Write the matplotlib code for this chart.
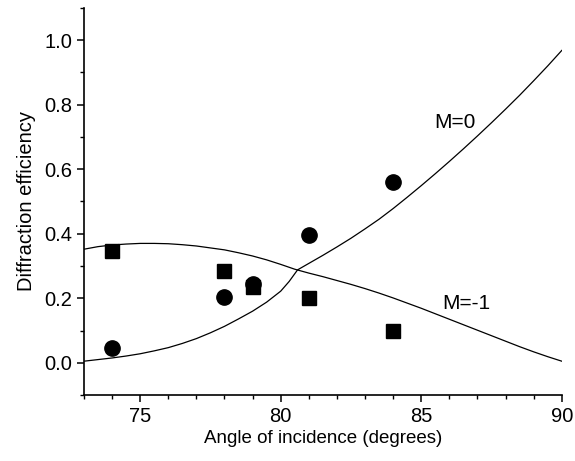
import matplotlib
matplotlib.use("Agg")
import matplotlib.pyplot as plt
from matplotlib.ticker import MultipleLocator

# Measured data
meas_angles = [74, 78, 79, 81, 84]
m0_measured = [0.045, 0.205, 0.245, 0.395, 0.56]
m1_measured = [0.345, 0.285, 0.235, 0.20, 0.10]

# Theoretical curves
m0_angles = [73, 73.5, 74, 74.5, 75, 75.5, 76, 76.5, 77, 77.5, 78, 78.5, 79, 79.5, 80, 80.3, 80.6, 81, 81.5,
             82, 82.5, 83, 83.5, 84, 84.5, 85, 85.5, 86, 86.5, 87, 87.5, 88, 88.5, 89, 89.5, 90]
m0_theory = [0.005, 0.010, 0.015, 0.021, 0.028, 0.037, 0.047, 0.060, 0.075, 0.093, 0.113, 0.136, 0.160, 0.188,
             0.222, 0.252, 0.288, 0.308, 0.333, 0.359, 0.386, 0.415, 0.445, 0.478, 0.513, 0.549, 0.586, 0.624,
             0.663, 0.703, 0.744, 0.786, 0.829, 0.874, 0.920, 0.968]
m1_angles = [73, 73.5, 74, 74.5, 75, 75.5, 76, 76.5, 77, 77.5, 78, 78.5, 79, 79.5, 80, 80.5, 81, 81.5, 82,
             82.5, 83, 83.5, 84, 84.5, 85, 85.5, 86, 86.5, 87, 87.5, 88, 88.5, 89, 89.5, 90]
m1_theory = [0.352, 0.360, 0.365, 0.368, 0.370, 0.370, 0.369, 0.366, 0.362, 0.356, 0.350, 0.341, 0.331, 0.319,
             0.305, 0.290, 0.278, 0.267, 0.255, 0.243, 0.230, 0.216, 0.201, 0.185, 0.169, 0.152, 0.135, 0.118,
             0.101, 0.084, 0.067, 0.050, 0.034, 0.019, 0.005]

plt.rcParams['font.family'] = ['Liberation Sans', 'DejaVu Sans']

fig = plt.figure(figsize=(5.75, 4.61), dpi=100)
ax = fig.add_axes([0.146, 0.143, 0.831, 0.840])

ax.plot(m0_angles, m0_theory, color='black', lw=0.9)
ax.plot(m1_angles, m1_theory, color='black', lw=0.9)
ax.plot(meas_angles, m0_measured, 'o', color='black', markersize=11)
ax.plot(meas_angles, m1_measured, 's', color='black', markersize=9.5)

ax.text(86.2, 0.745, 'M=0', ha='center', va='center', fontsize=15)
ax.text(86.6, 0.183, 'M=-1', ha='center', va='center', fontsize=15)

ax.set_xlim(73, 90)
ax.set_ylim(-0.1, 1.1)
ax.xaxis.set_major_locator(MultipleLocator(5))
ax.xaxis.set_minor_locator(MultipleLocator(1))
ax.yaxis.set_minor_locator(MultipleLocator(0.1))
ax.set_yticks([0.0, 0.2, 0.4, 0.6, 0.8, 1.0])
ax.set_yticklabels(['0.0', '0.2', '0.4', '0.6', '0.8', '1.0'])

for s in ['top', 'right']:
    ax.spines[s].set_visible(False)
for s in ['left', 'bottom']:
    ax.spines[s].set_linewidth(1.2)

ax.tick_params(which='major', direction='out', length=5, width=1.1, labelsize=14.5)
ax.tick_params(which='minor', direction='out', length=3, width=1.0)

ax.set_xlabel('Angle of incidence (degrees)', fontsize=13.5, labelpad=3)
ax.set_ylabel('Diffraction efficiency', fontsize=14.5, labelpad=6)

fig.savefig('out.png', dpi=100)
